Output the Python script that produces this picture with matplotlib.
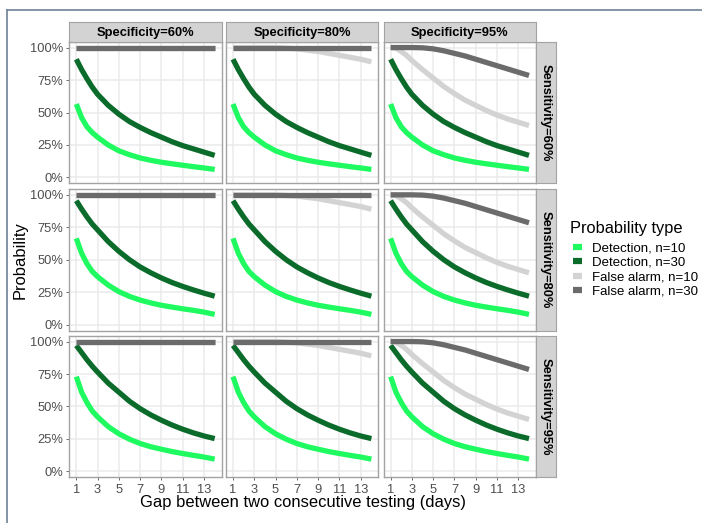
"""
Facet grid: detection / false alarm probability vs testing gap.
"""

import matplotlib
matplotlib.use("Agg")
import matplotlib.pyplot as plt
from matplotlib.lines import Line2D

plt.rcParams['font.family'] = ['Liberation Sans', 'DejaVu Sans']

# Gap between tests (days) at which the curves were read
days = [1, 1.5, 2, 2.5, 3, 4, 5, 6, 7, 8, 9, 10, 11, 12, 13, 14]

col_labels = ["Specificity=60%", "Specificity=80%", "Specificity=95%"]
row_labels = ["Sensitivity=60%", "Sensitivity=80%", "Sensitivity=95%"]
series_labels = ["Detection, n=10", "Detection, n=30",
                 "False alarm, n=10", "False alarm, n=30"]
series_colors = ["#1EFA5F", "#0B6B2B", "#D3D3D3", "#6B6B6B"]

# Detection probability (depends on sensitivity -> rows)
det10_sens60 = [0.565, 0.46, 0.39, 0.345, 0.31, 0.25, 0.205, 0.175, 0.15, 0.132,
                0.117, 0.105, 0.094, 0.083, 0.073, 0.062]
det30_sens60 = [0.91, 0.83, 0.76, 0.695, 0.64, 0.555, 0.487, 0.43, 0.385, 0.345,
                0.31, 0.275, 0.245, 0.22, 0.195, 0.17]
det10_sens80 = [0.665, 0.55, 0.47, 0.41, 0.37, 0.305, 0.255, 0.218, 0.19, 0.168,
                0.15, 0.136, 0.123, 0.111, 0.097, 0.08]
det30_sens80 = [0.955, 0.89, 0.83, 0.775, 0.73, 0.64, 0.565, 0.5, 0.445, 0.4,
                0.36, 0.325, 0.295, 0.268, 0.243, 0.22]
det10_sens95 = [0.73, 0.61, 0.53, 0.465, 0.42, 0.345, 0.29, 0.248, 0.215, 0.19,
                0.171, 0.153, 0.138, 0.124, 0.111, 0.095]
det30_sens95 = [0.97, 0.915, 0.86, 0.81, 0.765, 0.68, 0.61, 0.54, 0.483, 0.435,
                0.394, 0.357, 0.325, 0.297, 0.273, 0.253]

# False alarm probability (depends on specificity -> columns)
fa10_spec60 = [1, 1, 1, 1, 1, 1, 1, 1, 1, 1, 1, 1, 1, 1, 1, 1]
fa30_spec60 = [1, 1, 1, 1, 1, 1, 1, 1, 1, 1, 1, 1, 1, 1, 1, 1]
fa10_spec80 = [1, 1, 1, 1, 1, 1, 1, 0.995, 0.99, 0.98, 0.97, 0.955, 0.94, 0.925,
               0.91, 0.89]
fa30_spec80 = [1, 1, 1, 1, 1, 1, 1, 1, 1, 1, 1, 1, 1, 1, 1, 1]
fa10_spec95 = [1.0, 0.995, 0.97, 0.94, 0.9, 0.83, 0.765, 0.7, 0.645, 0.595,
               0.555, 0.515, 0.48, 0.45, 0.425, 0.40]
fa30_spec95 = [1, 1, 1, 1, 1, 0.998, 0.99, 0.975, 0.955, 0.935, 0.91, 0.885,
               0.86, 0.835, 0.81, 0.785]

det10 = [det10_sens60, det10_sens80, det10_sens95]
det30 = [det30_sens60, det30_sens80, det30_sens95]
fa10 = [fa10_spec60, fa10_spec80, fa10_spec95]
fa30 = [fa30_spec60, fa30_spec80, fa30_spec95]

W, H = 702, 523
fig = plt.figure(figsize=(W / 100, H / 100), dpi=100)


def fx(px):
    return px / W


def fy(py):
    return 1 - py / H


col_left = [69.4, 226.1, 383.7]
panel_w = 152.2
row_top = [41.7, 189.0, 335.7]
panel_h = 141.6
strip_fill = "#D3D3D3"
border = "#A3A3A3"

# outer frame line (left and top)
fig.add_artist(Line2D([fx(6.5), fx(6.5)], [fy(10), 0], color="#6F8296", lw=1.2))
fig.add_artist(Line2D([fx(6.5), 1], [fy(10), fy(10)], color="#6F8296", lw=1.2))

for r in range(3):
    for c in range(3):
        ax = fig.add_axes([fx(col_left[c]), fy(row_top[r] + panel_h),
                           fx(panel_w), panel_h / H])
        ax.set_xlim(1 - 0.65, 14 + 0.65)
        ax.set_ylim(-0.045, 1.045)
        ax.set_xticks([1, 3, 5, 7, 9, 11, 13])
        ax.set_yticks([0, 0.25, 0.5, 0.75, 1.0])
        ax.grid(which="major", color="#EBEBEB", lw=1.1)
        ax.set_axisbelow(True)
        for s in ax.spines.values():
            s.set_color(border)
            s.set_linewidth(1.0)
        ax.tick_params(which="major", length=2.5, width=0.6, color="#555555",
                       labelsize=9.3, labelcolor="#4D4D4D", pad=2)
        if c == 0:
            ax.set_yticklabels(["0%", "25%", "50%", "75%", "100%"])
        else:
            ax.tick_params(axis="y", left=False, labelleft=False)
        if r != 2:
            ax.tick_params(axis="x", bottom=False, labelbottom=False)

        series = [det10[r], det30[r], fa10[c], fa30[c]]
        for vals, color in zip(series, series_colors):
            ax.plot(days, vals, color=color, lw=3.8, solid_capstyle="butt",
                    solid_joinstyle="round")

        # top strip
        if r == 0:
            sax = fig.add_axes([fx(col_left[c]), fy(41.7), fx(panel_w), 20 / H])
            sax.set_facecolor(strip_fill)
            sax.set_xticks([])
            sax.set_yticks([])
            for s in sax.spines.values():
                s.set_color(border)
            sax.text(0.5, 0.45, col_labels[c], ha="center", va="center",
                     fontsize=9.3, fontweight="bold", transform=sax.transAxes)
        # right strip
        if c == 2:
            sax = fig.add_axes([fx(536), fy(row_top[r] + panel_h), fx(19.5),
                                panel_h / H])
            sax.set_facecolor(strip_fill)
            sax.set_xticks([])
            sax.set_yticks([])
            for s in sax.spines.values():
                s.set_color(border)
            sax.text(0.5, 0.5, row_labels[r], ha="center", va="center",
                     rotation=-90, fontsize=9.3, fontweight="bold",
                     transform=sax.transAxes)

fig.text(fx(302.5), fy(503), "Gap between two consecutive testing (days)",
         ha="center", va="center", fontsize=11.9)
fig.text(fx(20), fy(260), "Probability", ha="center", va="center",
         rotation=90, fontsize=11.9)

# legend: title as its own text, keys below it
fig.text(fx(569.5), fy(228), "Probability type", ha="left", va="center",
         fontsize=11.8)
handles = [Line2D([0], [0], color=col, lw=4.5, solid_capstyle="butt")
           for col in series_colors]
leg = fig.legend(handles, series_labels, loc="upper left",
                 bbox_to_anchor=(fx(573), fy(242.5)), frameon=False,
                 fontsize=9.5, borderaxespad=0, borderpad=0,
                 handlelength=0.68, handletextpad=0.76, labelspacing=0.15)

fig.savefig("out.png", dpi=100)
